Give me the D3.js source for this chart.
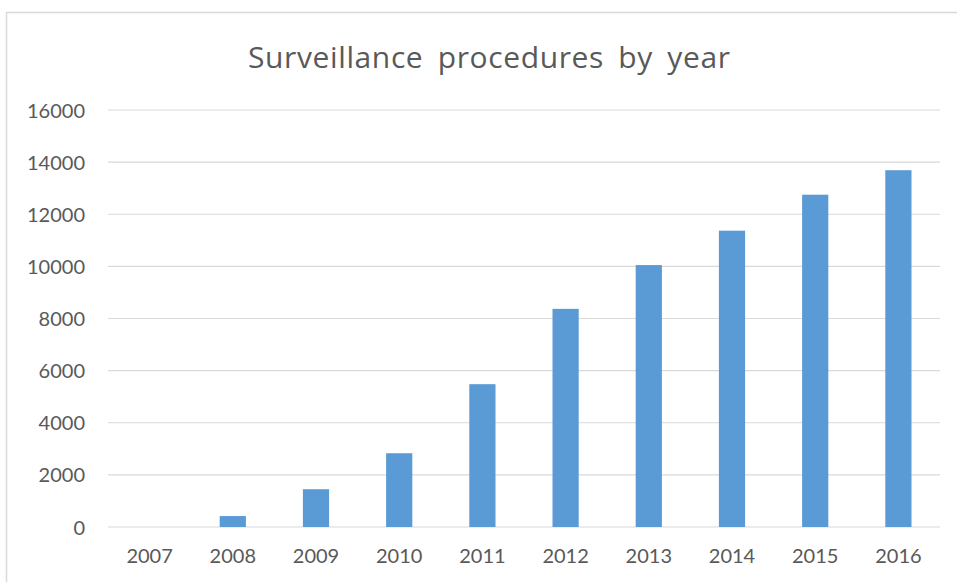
<!DOCTYPE html>
<html><head><meta charset="utf-8">
<script src="https://cdn.jsdelivr.net/npm/d3@7"></script>
<style>body{margin:0;background:#fff;} text{font-family:Lato, "Open Sans", sans-serif;}</style>
</head><body>
<svg id="c" width="957" height="582"></svg>
<script>
const years = ["2007","2008","2009","2010","2011","2012","2013","2014","2015","2016"];
const procedures = [0, 420, 1450, 2830, 5480, 8370, 10050, 11370, 12750, 13690];
const yTicks = [0, 2000, 4000, 6000, 8000, 10000, 12000, 14000, 16000];
const title = "Surveillance procedures by year";

const svg = d3.select("#c");
svg.append("rect").attr("x",6.5).attr("y",12.5).attr("width",1000).attr("height",600)
  .attr("fill","#fff").attr("stroke","#d9d9d9").attr("stroke-width",1.5);

const m = {left:108, right:940, top:110, bottom:527};
const x = d3.scaleBand().domain(years).range([m.left, m.right]).paddingInner(0.685).paddingOuter(0.3425);
const y = d3.scaleLinear().domain([0,16000]).range([m.bottom, m.top]);

svg.append("g").selectAll("line").data(yTicks).join("line")
  .attr("x1",m.left).attr("x2",m.right)
  .attr("y1",d=>y(d)).attr("y2",d=>y(d))
  .attr("stroke","#d9d9d9").attr("stroke-width",1.2);

svg.append("g").selectAll("rect").data(years).join("rect")
  .attr("x",d=>x(d)).attr("width",x.bandwidth())
  .attr("y",(d,i)=>y(procedures[i])).attr("height",(d,i)=>y(0)-y(procedures[i]))
  .attr("fill","#5b9bd5");

const yAxis = d3.axisLeft(y).tickValues(yTicks).tickSize(0).tickPadding(0).tickFormat(d3.format("d"));
const ga = svg.append("g").attr("transform","translate(85,0)").call(yAxis);
ga.select(".domain").remove();
ga.selectAll("text").attr("fill","#595959").style("font-size","20px").attr("dy","0.35em");

const xAxis = d3.axisBottom(x).tickSize(0).tickPadding(0);
const gx = svg.append("g").attr("transform","translate(0,556)").call(xAxis);
gx.select(".domain").remove();
gx.selectAll("text").attr("fill","#595959").style("font-size","20px").attr("dy","0.35em");

svg.append("text").attr("x",489).attr("y",57).attr("dy","0.35em").attr("text-anchor","middle")
  .attr("fill","#595959").style("font-family","'Open Sans', sans-serif").style("font-size","30px")
  .style("word-spacing","6px")
  .attr("textLength",482).attr("lengthAdjust","spacing").text(title);
</script>
</body></html>
